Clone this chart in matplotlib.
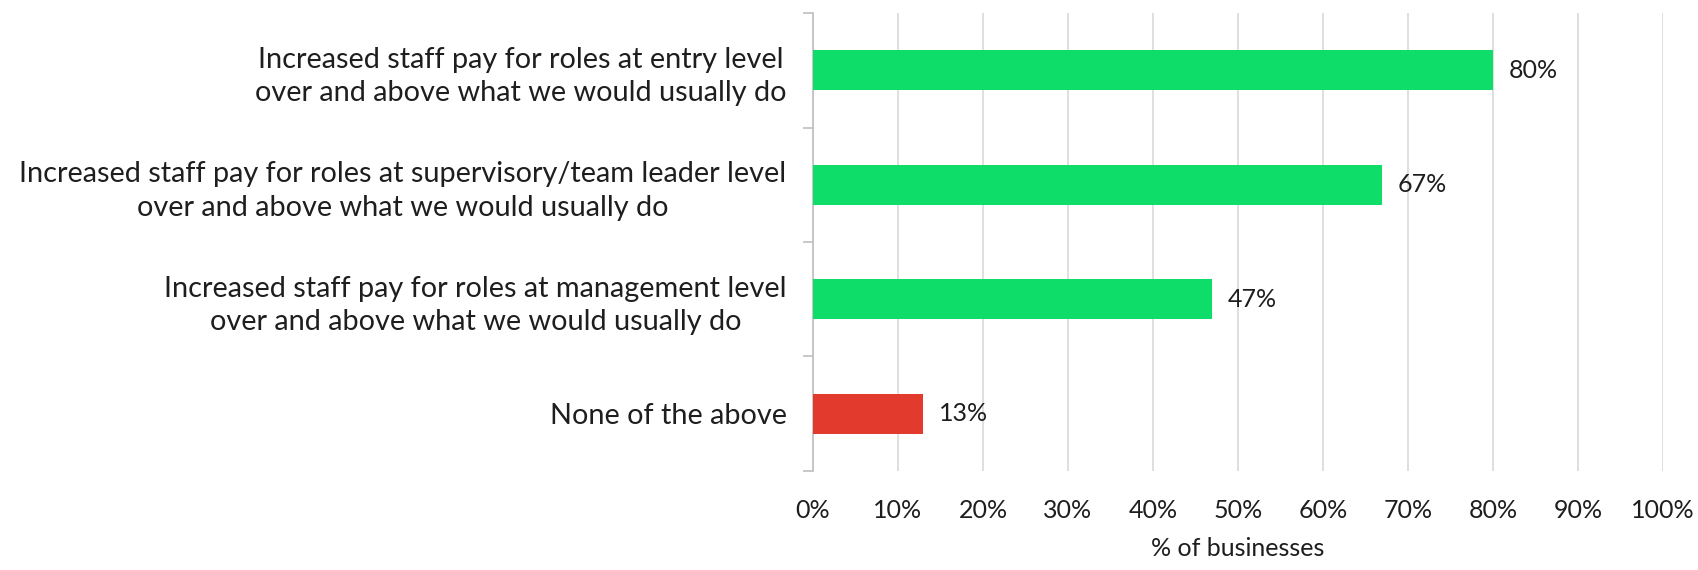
import numpy as np
import matplotlib
matplotlib.use('Agg')
import matplotlib.pyplot as plt
from matplotlib.ticker import PercentFormatter, FixedLocator

categories = [
    "Increased staff pay for roles at entry level\nover and above what we would usually do",
    "Increased staff pay for roles at supervisory/team leader level\nover and above what we would usually do",
    "Increased staff pay for roles at management level\nover and above what we would usually do",
    "None of the above",
]
values = [80, 67, 47, 13]
colors = ['#0EDE69', '#0EDE69', '#0EDE69', '#E23B2E']

plt.rcParams['font.family'] = ['Lato', 'DejaVu Sans']
TXT = '#1E1E1E'

fig = plt.figure(figsize=(16.99, 5.70), dpi=100)
ax = fig.add_axes([0.4785, 0.174, 0.5003, 0.803])

y = np.arange(len(categories))
bars = ax.barh(y, values, height=0.35, color=colors, zorder=3)
ax.bar_label(bars, labels=[f"{v}%" for v in values], padding=11,
             fontsize=18, color=TXT)

ax.set_xlim(0, 100)
ax.set_ylim(len(categories) - 0.5, -0.5)
ax.set_xticks(np.arange(0, 101, 10))
ax.xaxis.set_major_formatter(PercentFormatter(decimals=0))
ax.tick_params(axis='x', length=0, pad=20, labelsize=18, labelcolor=TXT)
ax.grid(axis='x', color='#D9D9D9', linewidth=1.2, zorder=0)

ax.set_yticks(y)
ax.set_yticklabels(categories, fontsize=20.8, color=TXT, multialignment='center',
                   linespacing=1.35)
ax.tick_params(axis='y', which='major', length=0, pad=19)
ax.yaxis.set_minor_locator(FixedLocator(np.arange(-0.5, len(categories), 1.0)))
ax.tick_params(axis='y', which='minor', length=7, color='#BFBFBF', width=1.2)

for s in ['top', 'right', 'bottom']:
    ax.spines[s].set_visible(False)
ax.spines['left'].set_color('#BFBFBF')
ax.spines['left'].set_linewidth(1.2)

ax.set_xlabel('% of businesses', fontsize=18, color=TXT, labelpad=11)

fig.savefig('out.png', dpi=100)
